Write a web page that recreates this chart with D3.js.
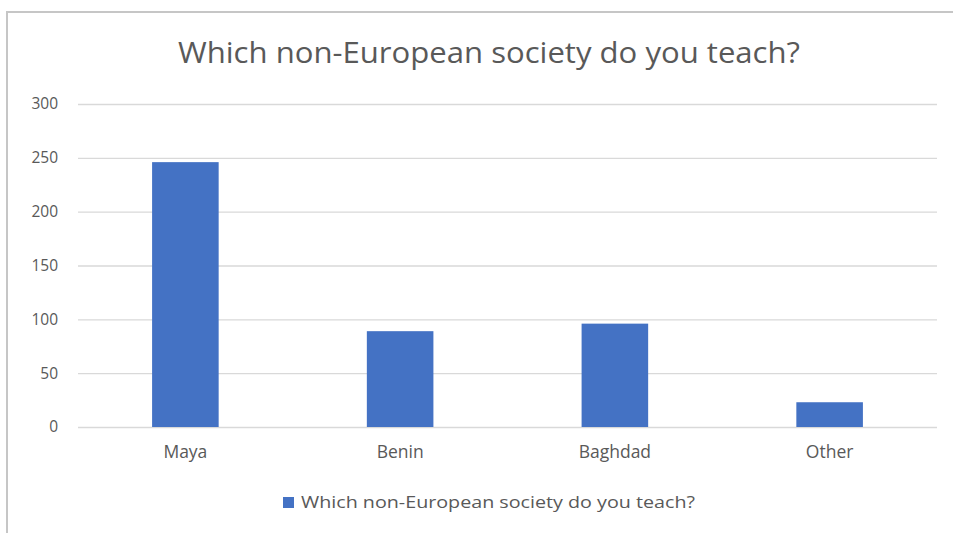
<!DOCTYPE html>
<html>
<head>
<meta charset="utf-8">
<script src="https://cdn.jsdelivr.net/npm/d3@7"></script>
<style>
  html, body { margin: 0; padding: 0; background: #fff; }
  svg { display: block; }
  text { font-family: "Open Sans", "Noto Sans", sans-serif; fill: #595959; }
</style>
</head>
<body>
<svg id="chart" width="953" height="533"></svg>
<script>
// Survey responses
const title = "Which non-European society do you teach?";
const seriesName = "Which non-European society do you teach?";
const categories = ["Maya", "Benin", "Baghdad", "Other"];
const values = [246, 89, 96, 23];
const yTicks = [0, 50, 100, 150, 200, 250, 300];

const svg = d3.select("#chart");
const W = 953, H = 533;
const plot = { left: 78, right: 937, top: 104, bottom: 427 };

svg.append("rect").attr("width", W).attr("height", H).attr("fill", "#fff");

// chart frame (top and left edges visible)
svg.append("path")
  .attr("d", `M7,${H} L7,12 L${W},12`)
  .attr("fill", "none")
  .attr("stroke", "#c6c6c6")
  .attr("stroke-width", 2);

const x = d3.scaleBand()
  .domain(categories)
  .range([plot.left, plot.right])
  .paddingInner(0.69)
  .paddingOuter(0.345);

const y = d3.scaleLinear()
  .domain([0, 300])
  .range([plot.bottom, plot.top]);

// gridlines + value labels
const yAxis = d3.axisLeft(y)
  .tickValues(yTicks)
  .tickSize(-(plot.right - plot.left))
  .tickPadding(20)
  .tickFormat(d3.format("d"));

const gy = svg.append("g")
  .attr("transform", `translate(${plot.left},0)`)
  .call(yAxis);
gy.select(".domain").remove();
gy.selectAll(".tick line").attr("stroke", "#d9d9d9").attr("stroke-width", 1.3);
gy.selectAll(".tick text")
  .attr("font-size", 15.5)
  .attr("fill", "#595959")
  .style("font-family", "'Open Sans', sans-serif");

// bars
svg.append("g").selectAll("rect")
  .data(categories)
  .join("rect")
  .attr("x", d => x(d))
  .attr("width", x.bandwidth())
  .attr("y", (d, i) => y(values[i]))
  .attr("height", (d, i) => y(0) - y(values[i]))
  .attr("fill", "#4472c4");

// category axis
const xAxis = d3.axisBottom(x).tickSize(0).tickPadding(19);
const gx = svg.append("g")
  .attr("transform", `translate(0,${plot.bottom})`)
  .call(xAxis);
gx.select(".domain").remove();
gx.selectAll(".tick text")
  .attr("font-size", 17.5)
  .attr("fill", "#595959")
  .style("font-family", "'Open Sans', sans-serif");

// title
svg.append("text")
  .attr("x", 489)
  .attr("y", 63)
  .attr("text-anchor", "middle")
  .attr("font-size", 29)
  .attr("textLength", 622)
  .attr("lengthAdjust", "spacingAndGlyphs")
  .text(title);

// legend
const lg = svg.append("g");
lg.append("rect")
  .attr("x", 283).attr("y", 497)
  .attr("width", 11).attr("height", 11)
  .attr("fill", "#4472c4");
lg.append("text")
  .attr("x", 301)
  .attr("y", 508)
  .attr("font-size", 17)
  .attr("textLength", 394)
  .attr("lengthAdjust", "spacingAndGlyphs")
  .text(seriesName);
</script>
</body>
</html>
